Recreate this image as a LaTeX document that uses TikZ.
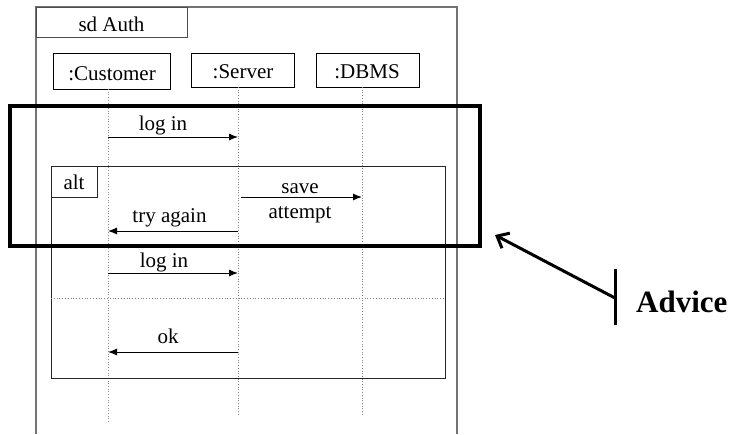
\documentclass[tikz,border=0pt]{standalone}
\usepackage{fontspec}
\setmainfont{Liberation Serif}
\usetikzlibrary{arrows.meta}
\begin{document}
\begin{tikzpicture}[x=1pt,y=-1pt,
  frame/.style={draw=black!55,line width=1.6pt},
  headbox/.style={draw,line width=0.8pt,inner sep=0pt,anchor=north west},
  lifeline/.style={draw=black!45,dotted,line width=0.7pt},
  msg/.style={draw,line width=1pt,-{Latex[length=9pt,width=7pt]}},
  lbl/.style={font=\fontsize{21}{22}\selectfont,inner sep=0pt,anchor=base},
  fragment/.style={draw=black!85,line width=1pt},
  highlight/.style={draw,line width=3.6pt},
  advarrow/.style={draw,line width=3pt,-{Straight Barb[length=10pt,width=17pt,line width=3pt]}}]
\useasboundingbox (0,0) rectangle (733,434);
% outer frame
\draw[frame] (36,434) -- (36,7) -- (457,7) -- (457,434);
\node[draw=black!70,line width=1pt,minimum width=151pt,minimum height=30pt,anchor=north west,inner sep=0pt] (tab) at (36,7) {};
\node[lbl] (tabt) at (111.5,31) {sd Auth};
% heads
\node[headbox,minimum width=117pt,minimum height=36pt] (cust) at (53,53) {};
\node[headbox,minimum width=103pt,minimum height=34pt] (serv) at (191,53) {};
\node[headbox,minimum width=103pt,minimum height=34pt] (dbms) at (316,53) {};
\node[lbl] (custt) at (112,80) {:Customer};
\node[lbl] (servt) at (243,78) {:Server};
\node[lbl] (dbmst) at (367,78) {:DBMS};
% lifeline ends
\coordinate (ct) at (108,89);
\coordinate (cb) at (108,423);
\coordinate (st) at (238,87);
\coordinate (sb) at (238,416);
\coordinate (dt) at (362,87);
\coordinate (db) at (362,416);
\draw[lifeline] (ct) -- (cb);
\draw[lifeline] (st) -- (sb);
\draw[lifeline] (dt) -- (db);
% alt fragment
\draw[fragment] (51,166) rectangle (445,378);
\node[draw=black!85,line width=1pt,minimum width=46pt,minimum height=31pt,anchor=north west,inner sep=0pt] (alt) at (51,166) {};
\node[lbl] (altt) at (74,189) {alt};
\coordinate (sepl) at (51,298);
\coordinate (sepr) at (445,298);
\draw[draw=black!50,dotted,line width=0.8pt] (sepl) -- (sepr);
% messages
\coordinate (m1a) at (108,137); \coordinate (m1b) at (238,137);
\draw[msg] (m1a) -- (m1b);
\node[lbl] (l1) at (163,130) {log in};
\coordinate (m2a) at (241,197); \coordinate (m2b) at (362,197);
\draw[msg] (m2a) -- (m2b);
\node[lbl] (save) at (300,193) {save};
\node[lbl] (att) at (300,218) {attempt};
\coordinate (m3a) at (238,231); \coordinate (m3b) at (108,231);
\draw[msg] (m3a) -- (m3b);
\node[lbl] (try) at (169.5,222) {try again};
\coordinate (m4a) at (108,273); \coordinate (m4b) at (238,273);
\draw[msg] (m4a) -- (m4b);
\node[lbl] (l4) at (164,267) {log in};
\coordinate (m5a) at (238,352); \coordinate (m5b) at (108,352);
\draw[msg] (m5a) -- (m5b);
\node[lbl] (ok) at (168,343) {ok};
% highlight box
\draw[highlight] (10,106) rectangle (480,246);
% advice
\coordinate (bt) at (615,269);
\coordinate (bb) at (615,325);
\draw[line width=3pt] (bt) -- (bb);
\coordinate (tail) at (615,298);
\coordinate (tip) at (495,235);
\draw[advarrow] (tail) -- (tip);
\node[font=\bfseries\fontsize{31}{32}\selectfont,anchor=base west,inner sep=0pt] (adv) at (636,312) {Advice};
\end{tikzpicture}
\end{document}
